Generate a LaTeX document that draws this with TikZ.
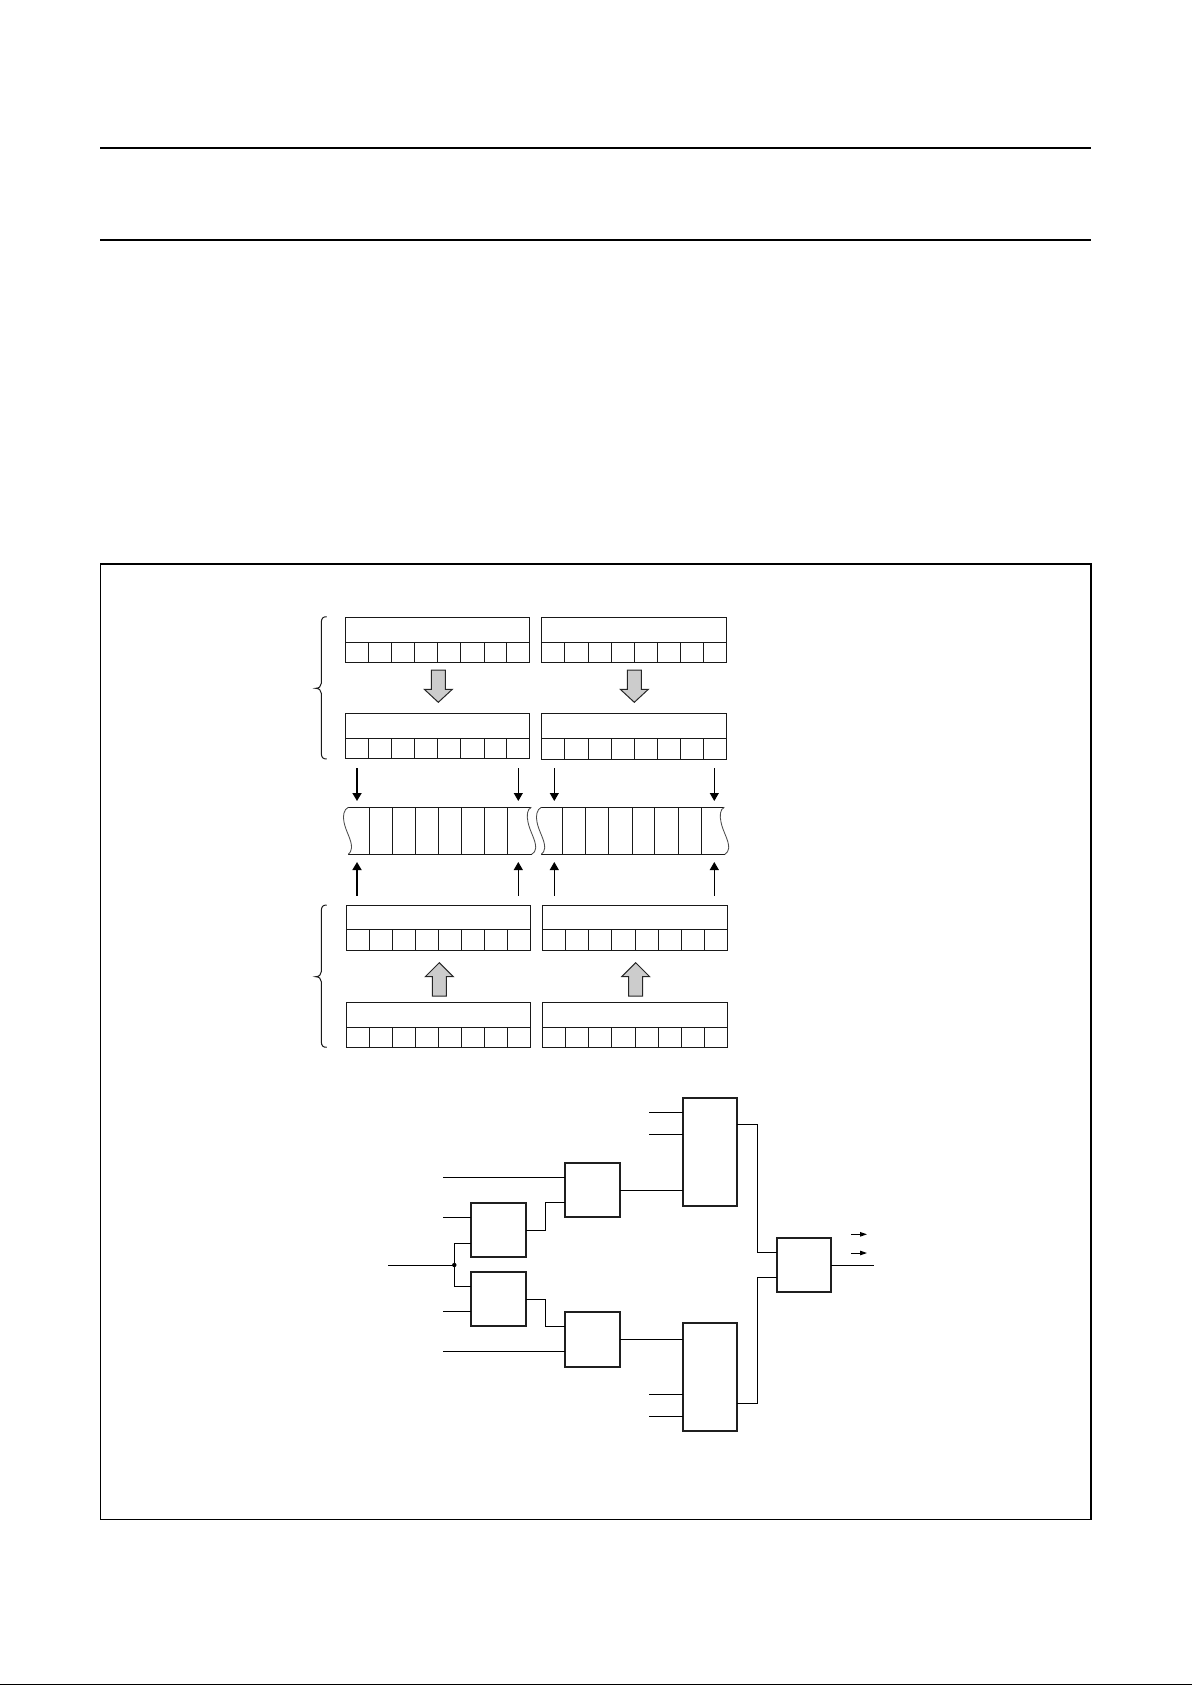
\documentclass[tikz,border=0pt]{standalone}
\usetikzlibrary{arrows.meta,calc}
\tikzset{
  x=1pt,y=-1pt,
  thin line/.style={line width=1pt,color=black!90},
  wire/.style={line width=1pt,black},
  regbox/.style={draw=black!90,line width=1pt,inner sep=0pt,outer sep=0pt,fill=white},
  logic/.style={draw=black!88,line width=2pt,inner sep=0pt,outer sep=0pt,fill=white},
  rule/.style={line width=2pt,black},
  frame/.style={line width=1.7pt,black},
  grey arrow/.style={draw=black!85,line width=1pt,fill=black!20,line join=miter},
  flow/.style={line width=1pt,black,-{Triangle[length=8pt,width=9pt]}},
  flow thick/.style={line width=1.7pt,black,-{Triangle[length=8pt,width=9pt]}},
  small flow/.style={line width=1pt,black,-{Triangle[length=7pt,width=4.5pt]}},
  brace line/.style={line width=1pt,black!90},
  band wave/.style={line width=0.85pt,black!70},
}
% \reg{name}{x0}{x1}{ytop}{ydiv}{ybot}{ticks}
\newcommand{\regdraw}[7]{%
  \pgfmathsetmacro{\rw}{#3-#2}\pgfmathsetmacro{\rh}{#6-#4}%
  \node[regbox,anchor=north west,minimum width=\rw pt,minimum height=\rh pt] (#1) at (#2,#4) {};
  \draw[thin line] (#2,#5) -- (#3,#5);
  \foreach \tx in {#7} \draw[thin line] (\tx,#5) -- (\tx,#6);
}
\newcommand{\logicbox}[5]{%
  \pgfmathsetmacro{\rw}{#3-#2}\pgfmathsetmacro{\rh}{#5-#4}%
  \node[logic,anchor=north west,minimum width=\rw pt,minimum height=\rh pt] (#1) at (#2,#4) {};
}
\newcommand{\bracedraw}[3]{% top, tip, bottom
  \draw[brace line] (326.7,#1) .. controls (323,#1) and (321.3,{#1+1.5}) .. (321.3,{#1+6})
    -- (321.3,{#2-5}) .. controls (321.3,{#2-2}) and (319,#2) .. (315.7,#2)
    .. controls (319,#2) and (321.3,{#2+2}) .. (321.3,{#2+5})
    -- (321.3,{#3-6}) .. controls (321.3,{#3-1.5}) and (323,#3) .. (326.7,#3);
}
\begin{document}
\begin{tikzpicture}
\useasboundingbox (0,0) rectangle (1192,1685);
% rules
\coordinate (r1a) at (100,148); \coordinate (r1b) at (1090.7,148);
\coordinate (r2a) at (100,240); \coordinate (r2b) at (1090.7,240);
\draw[rule] (r1a) -- (r1b);
\draw[rule] (r2a) -- (r2b);
\draw[frame] (100.6,564) rectangle (1091,1519.4);
\draw[line width=1pt,black] (0,1684) -- (1192,1684);

% braces
\bracedraw{616.7}{688.3}{759}
\bracedraw{905}{976.7}{1047.3}

% top registers
\regdraw{ra}{345.3}{529.7}{617.3}{642.3}{662.3}{368.3,391.3,414.3,437.3,460.3,484.3,506.3}
\regdraw{rb}{541.3}{726.3}{617.3}{642.3}{662.3}{564.3,588.3,611.3,634.3,657.3,680.3,703.3}
\regdraw{rc}{345.3}{529.7}{713.3}{738.3}{758.3}{368.3,391.3,414.3,437.3,460.3,484.3,506.3}
\regdraw{rd}{541.3}{726.3}{713.3}{738.3}{759.3}{564.3,588.3,611.3,634.3,657.3,680.3,703.3}
% bottom registers
\regdraw{re}{346.3}{530.3}{905.3}{929.3}{950.3}{369.3,392.3,415.3,438.3,461.3,484.3,507.3}
\regdraw{rf}{542.3}{727.3}{905.3}{929.3}{950.3}{565.3,588.3,611.3,635.3,658.3,681.3,704.3}
\regdraw{rg}{346.3}{530.3}{1002.3}{1027.3}{1047.3}{369.3,392.3,415.3,438.3,461.3,484.3,507.3}
\regdraw{rh}{542.3}{727.3}{1002.3}{1027.3}{1047.3}{565.3,588.3,611.3,635.3,658.3,681.3,704.3}

% grey arrows
\draw[grey arrow] (431.3,670) -- (445.3,670) -- (445.3,689.3) -- (452.3,689.3) -- (438.3,702.3) -- (424.3,689.3) -- (431.3,689.3) -- cycle;
\draw[grey arrow] (627.3,670) -- (641.3,670) -- (641.3,689.3) -- (648.3,689.3) -- (634.3,702.3) -- (620.3,689.3) -- (627.3,689.3) -- cycle;
\draw[grey arrow] (432.3,996) -- (446.3,996) -- (446.3,976.7) -- (453.3,976.7) -- (439.3,962.7) -- (425.3,976.7) -- (432.3,976.7) -- cycle;
\draw[grey arrow] (628.7,996) -- (642.7,996) -- (642.7,976.7) -- (649.7,976.7) -- (635.7,962.7) -- (621.7,976.7) -- (628.7,976.7) -- cycle;

% memory band, left part
\draw[thin line] (348.3,807.3) -- (531.3,807.3);
\draw[thin line] (348.3,854.3) -- (531.7,854.3);
\foreach \tx in {369.3,392.3,415.3,438.3,461.3,484.3,507.3} \draw[thin line] (\tx,807.3) -- (\tx,854.3);
\draw[band wave] (348.3,807.3) .. controls (344,809) and (342.5,816) .. (344,822)
  .. controls (345.5,831) and (352,840) .. (351.5,848) .. controls (351.3,851) and (350,853) .. (348.3,854.3);
\draw[band wave] (531.3,807.3) .. controls (527,809) and (526.5,816) .. (528,822)
  .. controls (529.5,831) and (536,840) .. (535.7,848) .. controls (535.5,851) and (534,853) .. (531.7,854.3);
% memory band, right part
\draw[thin line] (541.3,807.3) -- (724.3,807.3);
\draw[thin line] (541.3,854.3) -- (725,854.3);
\foreach \tx in {562.3,585.3,608.3,632.3,654.3,678.3,701.3} \draw[thin line] (\tx,807.3) -- (\tx,854.3);
\draw[band wave] (541.3,807.3) .. controls (537,809) and (535.5,816) .. (537,822)
  .. controls (538.5,831) and (545,840) .. (544.7,848) .. controls (544.5,851) and (543,853) .. (541.3,854.3);
\draw[band wave] (724.3,807.3) .. controls (720,809) and (719.5,816) .. (721,822)
  .. controls (722.5,831) and (729,840) .. (728.7,848) .. controls (728.5,851) and (727,853) .. (725,854.3);

% arrows into band
\foreach \n/\ax in {a/518.3,b/554.3,c/714.3}{
  \coordinate (dn\n s) at (\ax,768); \coordinate (dn\n e) at (\ax,801);
  \coordinate (up\n s) at (\ax,895.7); \coordinate (up\n e) at (\ax,862);
  \draw[flow] (dn\n s) -- (dn\n e);
  \draw[flow] (up\n s) -- (up\n e);
}
\coordinate (dn0s) at (357,768); \coordinate (dn0e) at (357,801);
\coordinate (up0s) at (357,895.7); \coordinate (up0e) at (357,862);
\draw[flow thick] (dn0s) -- (dn0e);
\draw[flow thick] (up0s) -- (up0e);

% logic blocks
\logicbox{A}{470.7}{526.3}{1202.7}{1257}
\logicbox{B}{470.7}{526.3}{1271.7}{1326}
\logicbox{C}{564.7}{620.3}{1162.7}{1217}
\logicbox{D}{564.7}{620.3}{1311.7}{1367}
\logicbox{E}{682.7}{737.3}{1097.7}{1206}
\logicbox{F}{682.7}{737.3}{1323}{1431}
\logicbox{G}{776.7}{831.3}{1237.7}{1292}

% free ends
\coordinate (i1) at (443,1177.3);
\coordinate (i2) at (443,1217.3);
\coordinate (i3) at (443,1311.3);
\coordinate (i4) at (443,1351.3);
\coordinate (in) at (388,1265);
\coordinate (j) at (454.3,1265);
\coordinate (e1) at (649,1112.3);
\coordinate (e2) at (649,1134);
\coordinate (f1) at (649,1394.3);
\coordinate (f2) at (649,1416.3);
\coordinate (out) at (874,1265.3);

\draw[wire] (i1) -- (i1 -| C.west);
\draw[wire] (i2) -- (i2 -| A.west);
\draw[wire] (i3) -- (i3 -| B.west);
\draw[wire] (i4) -- (i4 -| D.west);
\draw[wire] (in) -- (j);
\fill[black] (j) circle (2.2pt);
\draw[wire] (A.west |- 0,1243.3) -- (454.3,1243.3) -- (454.3,1286.3) -- (B.west |- 0,1286.3);
\draw[wire] (A.east |- 0,1230.3) -- (545.3,1230.3) -- (545.3,1202.3) -- (C.west |- 0,1202.3);
\draw[wire] (B.east |- 0,1299.3) -- (545.3,1299.3) -- (545.3,1326.3) -- (D.west |- 0,1326.3);
\draw[wire] (C.east |- 0,1190.3) -- (E.west |- 0,1190.3);
\draw[wire] (D.east |- 0,1339.3) -- (F.west |- 0,1339.3);
\draw[wire] (e1) -- (e1 -| E.west);
\draw[wire] (e2) -- (e2 -| E.west);
\draw[wire] (f1) -- (f1 -| F.west);
\draw[wire] (f2) -- (f2 -| F.west);
\draw[wire] (E.east |- 0,1124.3) -- (757.3,1124.3) -- (757.3,1252.3) -- (G.west |- 0,1252.3);
\draw[wire] (F.east |- 0,1403.3) -- (757.3,1403.3) -- (757.3,1277.3) -- (G.west |- 0,1277.3);
\draw[wire] (G.east |- out) -- (out);

% small arrows
\coordinate (s1a) at (851,1234.3); \coordinate (s1b) at (867,1234.3);
\coordinate (s2a) at (851,1253); \coordinate (s2b) at (867,1253);
\draw[small flow] (s1a) -- (s1b);
\draw[small flow] (s2a) -- (s2b);
\end{tikzpicture}
\end{document}
